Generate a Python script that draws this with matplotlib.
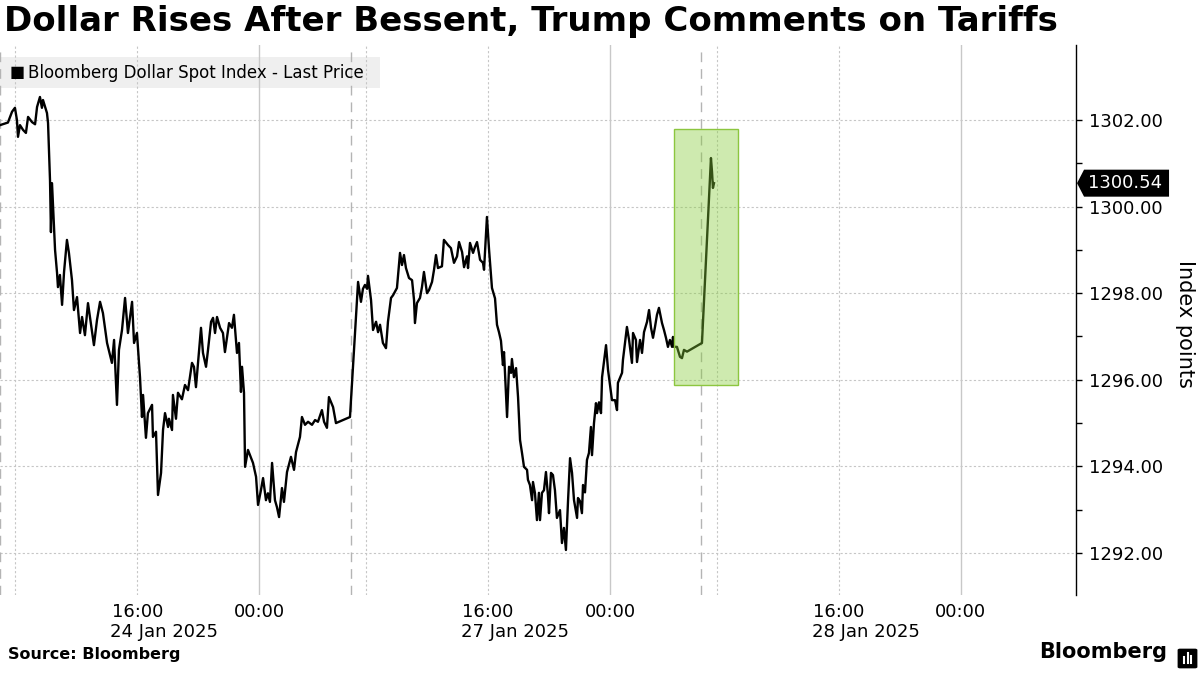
import matplotlib.pyplot as plt
import matplotlib.patches as mpatches

# Bloomberg Dollar Spot Index, intraday (x = hours on a compressed session axis,
# each session runs 07:00 -> 06:00 next day, 23 h, weekend removed)
hours = [0.00, 0.52, 0.79, 0.98, 1.11, 1.18, 1.31, 1.51, 1.70, 1.84, 2.10, 2.30, 2.43, 2.62,
         2.75, 2.82, 3.08, 3.15, 3.28, 3.34, 3.41, 3.61, 3.74, 3.80, 3.93, 4.07, 4.20, 4.39,
         4.52, 4.72, 4.85, 5.05, 5.25, 5.38, 5.57, 5.77, 5.97, 6.16, 6.36, 6.56, 6.75, 7.02,
         7.34, 7.48, 7.67, 7.80, 8.00, 8.20, 8.39, 8.66, 8.79, 8.98, 9.18, 9.31, 9.38, 9.57,
         9.70, 9.97, 10.03, 10.23, 10.36, 10.56, 10.69, 10.82, 11.02, 11.08, 11.28, 11.34,
         11.54, 11.67, 11.93, 12.13, 12.33, 12.59, 12.72, 12.85, 13.18, 13.31, 13.51, 13.64,
         13.84, 13.97, 14.10, 14.23, 14.43, 14.62, 14.75, 15.02, 15.21, 15.34, 15.54, 15.67,
         15.80, 15.87, 16.00, 16.07, 16.26, 16.46, 16.59, 16.79, 16.92, 17.11, 17.25, 17.44,
         17.57, 17.70, 17.84, 18.03, 18.16, 18.30, 18.49, 18.62, 18.82, 19.08, 19.28, 19.41,
         19.67, 19.80, 20.00, 20.20, 20.46, 20.66, 20.85, 21.11, 21.25, 21.44, 21.57, 21.84,
         22.03, 22.95,
         23.48, 23.67, 23.80, 23.93, 24.07, 24.13, 24.33, 24.46, 24.66, 24.79, 24.92, 25.11,
         25.31, 25.44, 25.64, 25.77, 26.03, 26.23, 26.36, 26.49, 26.62, 26.82, 27.02, 27.15,
         27.21, 27.34, 27.54, 27.67, 27.80, 28.00, 28.13, 28.33, 28.46, 28.59, 28.72, 28.98,
         29.11, 29.38, 29.57, 29.77, 29.97, 30.10, 30.30, 30.43, 30.62, 30.69, 30.82, 31.02,
         31.15, 31.28, 31.48, 31.67, 31.74, 31.93, 32.07, 32.26, 32.46, 32.59, 32.72, 32.85,
         32.98, 33.05, 33.25, 33.38, 33.51, 33.57, 33.70, 33.84, 33.97, 34.10, 34.23, 34.36,
         34.56, 34.62, 34.75, 34.89, 34.95, 35.08, 35.21, 35.34, 35.41, 35.54, 35.67, 35.80,
         35.93, 36.00, 36.13, 36.26, 36.39, 36.52, 36.72, 36.85, 36.98, 37.11, 37.25, 37.38,
         37.51, 37.64, 37.84, 37.90, 38.03, 38.16, 38.23, 38.36, 38.49, 38.62, 38.75, 38.82,
         38.95, 39.08, 39.15, 39.28, 39.41, 39.48, 39.74, 39.87, 40.13, 40.33, 40.46, 40.52,
         40.79, 40.85, 41.11, 41.25, 41.44, 41.51, 41.70, 41.77, 41.97, 42.10, 42.23, 42.43,
         42.56, 42.69, 42.82, 42.95, 43.08, 43.21, 43.41, 43.54, 43.67, 43.80, 43.93, 44.07,
         44.13, 44.20, 44.39, 44.59, 44.72, 44.85, 45.05,
         46.03, 46.62, 46.69, 46.75, 46.82]
prices = [1301.88, 1301.94, 1302.19, 1302.28, 1302.00, 1301.61, 1301.88, 1301.77, 1301.70,
          1302.07, 1301.95, 1301.90, 1302.30, 1302.53, 1302.28, 1302.46, 1302.16, 1301.93,
          1300.60, 1299.41, 1300.54, 1299.00, 1298.47, 1298.14, 1298.42, 1297.73, 1298.49,
          1299.23, 1298.93, 1298.30, 1297.61, 1297.91, 1297.08, 1297.45, 1297.03, 1297.77,
          1297.27, 1296.80, 1297.38, 1297.80, 1297.54, 1296.85, 1296.39, 1296.92, 1295.42,
          1296.69, 1297.15, 1297.89, 1297.08, 1297.80, 1296.85, 1297.08, 1296.06, 1295.14,
          1295.65, 1294.66, 1295.23, 1295.42, 1294.68, 1294.80, 1293.34, 1293.85, 1294.84,
          1295.23, 1294.91, 1295.10, 1294.84, 1295.65, 1295.10, 1295.70, 1295.55, 1295.88,
          1295.76, 1296.39, 1296.30, 1295.83, 1297.20, 1296.62, 1296.30, 1296.69, 1297.34,
          1297.43, 1297.08, 1297.45, 1297.20, 1297.08, 1296.64, 1297.31, 1297.20, 1297.50,
          1296.62, 1296.85, 1295.72, 1296.30, 1295.70, 1293.99, 1294.38, 1294.20, 1294.08,
          1293.76, 1293.11, 1293.45, 1293.73, 1293.22, 1293.38, 1293.18, 1294.08, 1293.22,
          1293.06, 1292.83, 1293.50, 1293.18, 1293.87, 1294.22, 1293.92, 1294.33, 1294.68,
          1295.14, 1294.96, 1295.03, 1294.96, 1295.07, 1295.03, 1295.30, 1295.03, 1294.89,
          1295.60, 1295.37, 1295.00, 1295.14,
          1298.26, 1297.80, 1298.10, 1298.19, 1298.10, 1298.40, 1297.84, 1297.15, 1297.34,
          1297.10, 1297.27, 1296.85, 1296.73, 1297.34, 1297.89, 1297.95, 1298.12, 1298.93,
          1298.65, 1298.88, 1298.58, 1298.35, 1298.30, 1297.84, 1297.31, 1297.77, 1297.89,
          1298.14, 1298.49, 1298.00, 1298.07, 1298.26, 1298.54, 1298.88, 1298.58, 1298.62,
          1299.23, 1299.11, 1299.04, 1298.70, 1298.85, 1299.18, 1298.95, 1298.60, 1298.85,
          1298.58, 1299.16, 1298.93, 1299.07, 1299.18, 1298.77, 1298.70, 1298.54, 1299.76,
          1299.00, 1298.12, 1297.88, 1297.27, 1297.10, 1296.90, 1296.34, 1296.64, 1295.14,
          1296.30, 1296.16, 1296.48, 1296.06, 1296.27, 1295.60, 1294.61, 1294.31, 1293.99,
          1293.92, 1293.69, 1293.57, 1293.22, 1293.64, 1293.38, 1292.76, 1293.39, 1292.76,
          1293.39, 1293.45, 1293.87, 1293.34, 1292.92, 1293.85, 1293.80, 1293.45, 1292.81,
          1292.99, 1292.23, 1292.58, 1292.07, 1293.22, 1294.19, 1293.85, 1293.22, 1292.81,
          1293.27, 1293.20, 1292.92, 1293.57, 1293.40, 1294.15, 1294.31, 1294.91, 1294.26,
          1295.00, 1295.46, 1295.23, 1295.48, 1295.23, 1296.06, 1296.80, 1296.23, 1295.53,
          1295.53, 1295.30, 1295.93, 1296.16, 1296.46, 1297.22, 1296.92, 1296.39, 1297.08,
          1296.92, 1296.41, 1296.92, 1296.62, 1297.10, 1297.34, 1297.61, 1297.20, 1296.97,
          1297.22, 1297.50, 1297.66, 1297.31, 1297.15, 1296.97, 1296.76, 1296.92, 1296.76,
          1296.99, 1296.76, 1296.76, 1296.53, 1296.50, 1296.69, 1296.65,
          1296.85, 1301.12, 1300.80, 1300.43, 1300.54]
last_price = 1300.54

session_starts = [0, 23, 46]
tick_pos = [9, 17, 32, 40, 55, 63]
tick_labels = ['16:00', '00:00', '16:00', '00:00', '16:00', '00:00']
date_ticks = [9, 32, 55]
date_labels = ['24 Jan 2025', '27 Jan 2025', '28 Jan 2025']
y_ticks = [1292, 1294, 1296, 1298, 1300, 1302]

# highlighted box (after the comments)
box_x = (44.2, 48.37)
box_y = (1295.87, 1301.79)

GRID = '#c6c6c6'

fig = plt.figure(figsize=(12, 6.75), dpi=100)
ax = fig.add_axes([0, 0.1185, 0.8967, 0.8148])
ax.set_xlim(0, 70.56)
ax.set_ylim(1291.03, 1303.73)

# grid
for y in y_ticks:
    ax.axhline(y, color=GRID, lw=0.8, ls=(0, (2, 2)), zorder=1)
for s in session_starts:
    ax.axvline(s, color='#b4b4b4', lw=1, ls=(0, (7, 5)), zorder=1)
    ax.axvline(s + 1, color=GRID, lw=0.8, ls=(0, (2, 2)), zorder=1)
    ax.axvline(s + 9, color=GRID, lw=0.8, ls=(0, (2, 2)), zorder=1)
    ax.axvline(s + 17, color='#c8c8c8', lw=1, zorder=1)

ax.plot(hours, prices, color='black', lw=1.7, zorder=3)

rect = mpatches.Rectangle((box_x[0], box_y[0]), box_x[1] - box_x[0], box_y[1] - box_y[0],
                          facecolor=(0.52, 0.80, 0.22, 0.40), edgecolor='#8cc63f',
                          lw=1, zorder=4)
ax.add_patch(rect)

# axes styling
for side in ['top', 'left', 'bottom']:
    ax.spines[side].set_visible(False)
ax.spines['right'].set_linewidth(1)
ax.yaxis.tick_right()
ax.set_yticks(y_ticks)
ax.set_yticklabels([f'{v:.2f}' for v in y_ticks], fontsize=13)
ax.set_yticks(range(1292, 1303), minor=True)
ax.tick_params(axis='y', which='both', direction='out', length=4, width=1, pad=5)
ax.set_xticks(tick_pos)
ax.set_xticklabels(tick_labels, fontsize=13)
ax.tick_params(axis='x', length=0, pad=6)

for d, lab in zip(date_ticks, date_labels):
    ax.annotate(lab, xy=(d, 0), xycoords=('data', 'axes fraction'),
                xytext=(-27, -28), textcoords='offset pixels',
                ha='left', va='top', fontsize=13)

# legend strip
ax.add_patch(mpatches.Rectangle((0, 0.922), 0.353, 0.056, transform=ax.transAxes,
                                facecolor='#efefef', edgecolor='none', zorder=0.5))
ax.text(0.009, 0.950, '■', transform=ax.transAxes, fontsize=11.5, va='center', ha='left', zorder=2)
ax.text(0.026, 0.950, 'Bloomberg Dollar Spot Index - Last Price', transform=ax.transAxes,
        fontsize=12, va='center', ha='left', zorder=2)

# last price tag
fig.canvas.draw()
tip_x = ax.transAxes.transform((1, 0))[0]
tag_y = ax.transData.transform((0, last_price))[1]
h = 13.5
tag = mpatches.Polygon([(tip_x + 1, tag_y), (tip_x + 8, tag_y + h), (tip_x + 93, tag_y + h),
                        (tip_x + 93, tag_y - h), (tip_x + 8, tag_y - h)],
                       closed=True, facecolor='black', edgecolor='none', transform=None)
fig.patches.append(tag)
fig.text((tip_x + 12) / 1200, tag_y / 675, f'{last_price:.2f}', color='white',
         fontsize=13, va='center', ha='left')

fig.text(1185 / 1200, 0.52, 'Index points', rotation=270, fontsize=15, va='center', ha='center')

fig.text(0.003, 0.992, 'Dollar Rises After Bessent, Trump Comments on Tariffs',
         fontsize=24.5, fontweight='bold', va='top', ha='left')
fig.text(0.007, 0.019, 'Source: Bloomberg', fontsize=11.5, fontweight='bold', va='bottom')
fig.text(0.973, 0.020, 'Bloomberg', fontsize=15, fontweight='bold', va='bottom', ha='right')

# little logo mark
fig.patches.append(mpatches.FancyBboxPatch((1180 / 1200, 8 / 675), 15 / 1200, 17 / 675,
                                           boxstyle='round,pad=0.002', transform=fig.transFigure,
                                           facecolor='black', edgecolor='none'))
for bx, bh in zip([1184, 1187.5, 1191], [6, 10, 7]):
    fig.lines.append(plt.Line2D([bx / 1200, bx / 1200], [12 / 675, (12 + bh) / 675],
                                transform=fig.transFigure, color='white', lw=1.5))

fig.savefig('out.png', dpi=100, facecolor='white')
